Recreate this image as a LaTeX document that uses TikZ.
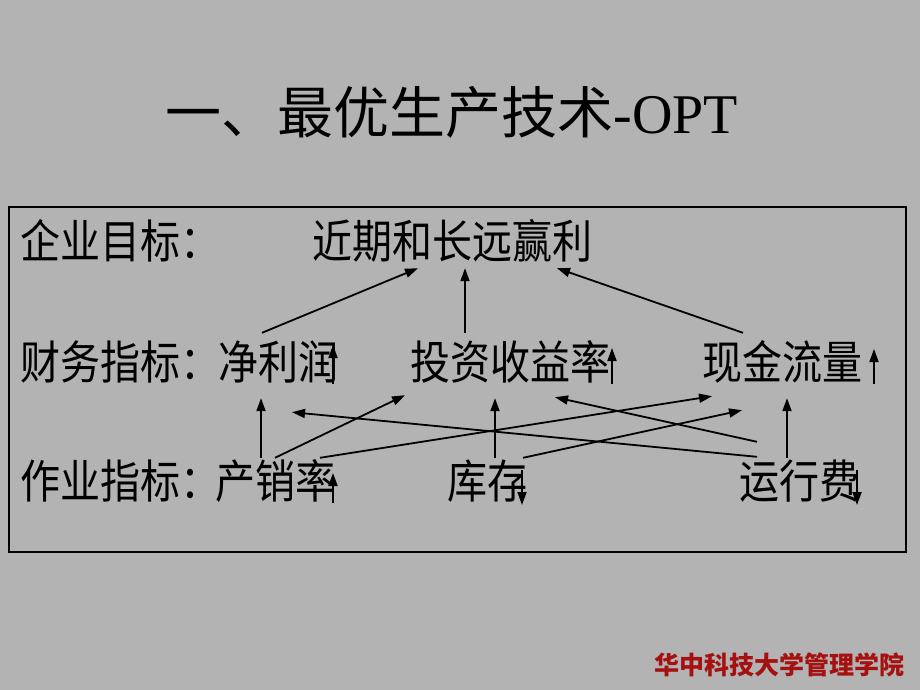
\documentclass[tikz,border=0pt]{standalone}
\usepackage{fontspec}
\usepackage{graphicx}
\setmainfont{Liberation Serif}
\newfontfamily\cjk{Noto Sans CJK SC}
\usetikzlibrary{arrows.meta,calc}
\definecolor{bgGray}{RGB}{179,179,179}
\definecolor{footRed}{RGB}{165,16,16}
\newcommand\sqz[1]{\scalebox{0.87}[1]{#1}}
\begin{document}
\begin{tikzpicture}[x=1pt,y=-1pt,
  lbl/.style={anchor=west, inner sep=0pt, text height=40.5pt, text depth=5.5pt,
              font=\cjk\fontsize{46}{46}\selectfont},
  conn/.style={line width=1.8pt, -{Triangle[length=13pt,width=9pt]}},
  sarrow/.style={line width=1.8pt, -{Triangle[length=13pt,width=9pt]}}]
\useasboundingbox (0,0) rectangle (920,690);
\fill[bgGray] (0,0) rectangle (920,690);

% title
\node (title) at (452,112) {{\cjk\fontsize{56}{56}\selectfont 一、最优生产技术}{\fontsize{56}{56}\selectfont -OPT}};

% frame
\draw[line width=1.6pt] (9,207) rectangle (906,552);

% row 1
\node[lbl] (goal)  at (20,241)  {\sqz{企业目标：}};
\node[lbl] (goalR) at (312,241) {\sqz{近期和长远赢利}};
% row 2
\node[lbl] (fin) at (20,362)  {\sqz{财务指标：}};
\node[lbl] (np)  at (218,362) {\sqz{净利润}};
\node[lbl] (roi) at (410,362) {\sqz{投资收益率}};
\node[lbl] (cf)  at (702,362) {\sqz{现金流量}};
% row 3
\node[lbl] (op)  at (20,481)  {\sqz{作业指标：}};
\node[lbl] (tp)  at (215,481) {\sqz{产销率}};
\node[lbl] (inv) at (447,481) {\sqz{库存}};
\node[lbl] (oe)  at (739,481) {\sqz{运行费}};

% small up/down arrows
\draw[sarrow] ($(np.west)+(115,22)$)  -- ($(np.west)+(115,-17)$);
\draw[sarrow] ($(roi.west)+(202,22)$) -- ($(roi.west)+(202,-14)$);
\draw[sarrow] ($(cf.west)+(172,22)$)  -- ($(cf.west)+(172,-13)$);
\draw[sarrow] ($(tp.west)+(118,22)$)  -- ($(tp.west)+(118,-8)$);
\draw[sarrow] ($(inv.west)+(75,-11)$) -- ($(inv.west)+(75,24)$);
\draw[sarrow] ($(oe.west)+(118,-11)$) -- ($(oe.west)+(118,24)$);

% upper connectors
\draw[conn] ($(np.north west)+(44,-6)$)  -- ($(goalR.south west)+(106,4)$);
\draw[conn] ($(roi.north west)+(55,-6)$) -- ($(goalR.south west)+(153,4)$);
\draw[conn] ($(cf.north west)+(41,-6)$)  -- ($(goalR.south west)+(245,4)$);

% lower connectors
\draw[conn] ($(tp.north west)+(46,0)$)   -- ($(np.south west)+(43,13)$);
\draw[conn] ($(tp.north west)+(60,0)$)   -- ($(roi.south west)+(-5,10)$);
\draw[conn] ($(oe.north west)+(18,-1)$)  -- ($(np.south west)+(74,27)$);
\draw[conn] ($(tp.north west)+(105,0)$)  -- ($(cf.south west)+(10,11)$);
\draw[conn] ($(oe.north west)+(18,-16)$) -- ($(roi.south west)+(145,12)$);
\draw[conn] ($(inv.north west)+(48,0)$)  -- ($(roi.south west)+(85,13)$);
\draw[conn] ($(inv.north west)+(76,0)$)  -- ($(cf.south west)+(40,25)$);
\draw[conn] ($(oe.north west)+(48,0)$)   -- ($(cf.south west)+(85,13)$);

% footer
\node[text=footRed, font=\cjk\bfseries\fontsize{25}{25}\selectfont] (footer) at (779,665) {华中科技大学管理学院};
\end{tikzpicture}
\end{document}
